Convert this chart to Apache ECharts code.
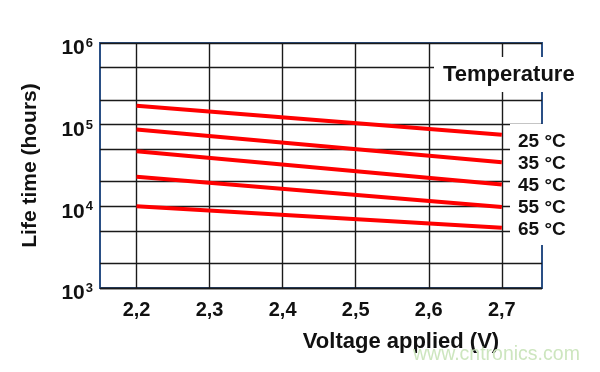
<!DOCTYPE html>
<html><head><meta charset="utf-8">
<script src="https://cdn.jsdelivr.net/npm/echarts@6/dist/echarts.min.js"></script>
<style>html,body{margin:0;padding:0;background:#fff}#c{width:600px;height:372px}</style>
</head><body><div id="c"></div>
<script>
// Data
const voltages = [2.2, 2.7];
const xTicks = [2.2, 2.3, 2.4, 2.5, 2.6, 2.7];
const seriesNames = ['25 °C', '35 °C', '45 °C', '55 °C', '65 °C'];
const life25 = [171000, 75500];
const life35 = [87000, 34700];
const life45 = [47400, 18500];
const life55 = [23000, 9800];
const life65 = [10000, 5450];
const minorGridValues = [2000, 5000, 20000, 50000, 200000, 500000];
const yDecadeExponents = {1000: '3', 10000: '4', 100000: '5', 1000000: '6'};

const allLife = [life25, life35, life45, life55, life65];
const font = 'Liberation Sans, Arial, sans-serif';
const ink = '#111';
const chart = echarts.init(document.getElementById('c'), null, {renderer: 'canvas'});

const series = allLife.map((vals, i) => ({
  name: seriesNames[i],
  type: 'line',
  data: voltages.map((v, j) => [v, vals[j]]),
  symbol: 'none',
  lineStyle: {color: '#ff0000', width: 4},
  z: 5,
  silent: true
}));

series.push({
  type: 'line',
  data: [],
  silent: true,
  markLine: {
    silent: true,
    symbol: 'none',
    label: {show: false},
    lineStyle: {color: '#1a1a1a', width: 1.4, type: 'solid'},
    data: minorGridValues.map(v => ({yAxis: v})).concat(xTicks.map(v => ({xAxis: v})))
  },
  z: 3
});

chart.setOption({
  animation: false,
  backgroundColor: '#fff',
  grid: {left: 100, right: 58, top: 43, bottom: 84, show: true, borderColor: '#2a4f85', borderWidth: 2, backgroundColor: 'transparent'},
  xAxis: {
    type: 'value', min: 2.15, max: 2.755,
    axisLine: {show: false}, axisTick: {show: false}, splitLine: {show: false},
    axisLabel: {
      customValues: xTicks,
      formatter: v => v.toFixed(1).replace('.', ','),
      fontFamily: font, fontWeight: 'bold', fontSize: 20, color: ink, margin: 12
    },
    name: 'Voltage applied (V)', nameLocation: 'middle', nameGap: 43,
    nameTextStyle: {fontFamily: font, fontWeight: 'bold', fontSize: 22, color: ink, padding: [0, 0, 0, 160]}
  },
  yAxis: {
    type: 'log', logBase: 10, min: 1000, max: 1000000,
    axisLine: {show: false}, axisTick: {show: false},
    splitLine: {show: true, lineStyle: {color: '#1a1a1a', width: 1.4}},
    axisLabel: {
      formatter: v => '{b|10}{s|' + (yDecadeExponents[Math.round(v)] || '') + '}',
      margin: 7,
      verticalAlign: 'middle',
      padding: [10, 0, 0, 0],
      rich: {
        b: {fontFamily: font, fontWeight: 'bold', fontSize: 21, color: ink, verticalAlign: 'bottom', lineHeight: 22},
        s: {fontFamily: font, fontWeight: 'bold', fontSize: 13, color: ink, verticalAlign: 'top', padding: [0, 0, 8, 1], lineHeight: 22}
      }
    },
    name: 'Life time (hours)', nameLocation: 'middle', nameGap: 59,
    nameTextStyle: {fontFamily: font, fontWeight: 'bold', fontSize: 21, color: ink}
  },
  graphic: [
    {type: 'rect', z: 100, shape: {x: 434, y: 57, width: 150, height: 35}, style: {fill: '#fff'}},
    {type: 'text', z: 101, x: 443, y: 75, style: {text: 'Temperature', font: 'bold 22px ' + font, fill: ink, textVerticalAlign: 'middle'}},
    {type: 'rect', z: 100, shape: {x: 510, y: 124, width: 74, height: 121}, style: {fill: '#fff'}},
    ...seriesNames.map((n, i) => ({type: 'text', z: 101, x: 518, y: 142 + i * 21.9, style: {text: n, font: 'bold 19px ' + font, fill: ink, textVerticalAlign: 'middle'}})),
    {type: 'text', z: 101, x: 413, y: 355, style: {text: 'www.cntronics.com', font: '19.5px ' + font, fill: '#cde6bf', textVerticalAlign: 'middle'}}
  ],
  series: series
});
</script></body></html>
